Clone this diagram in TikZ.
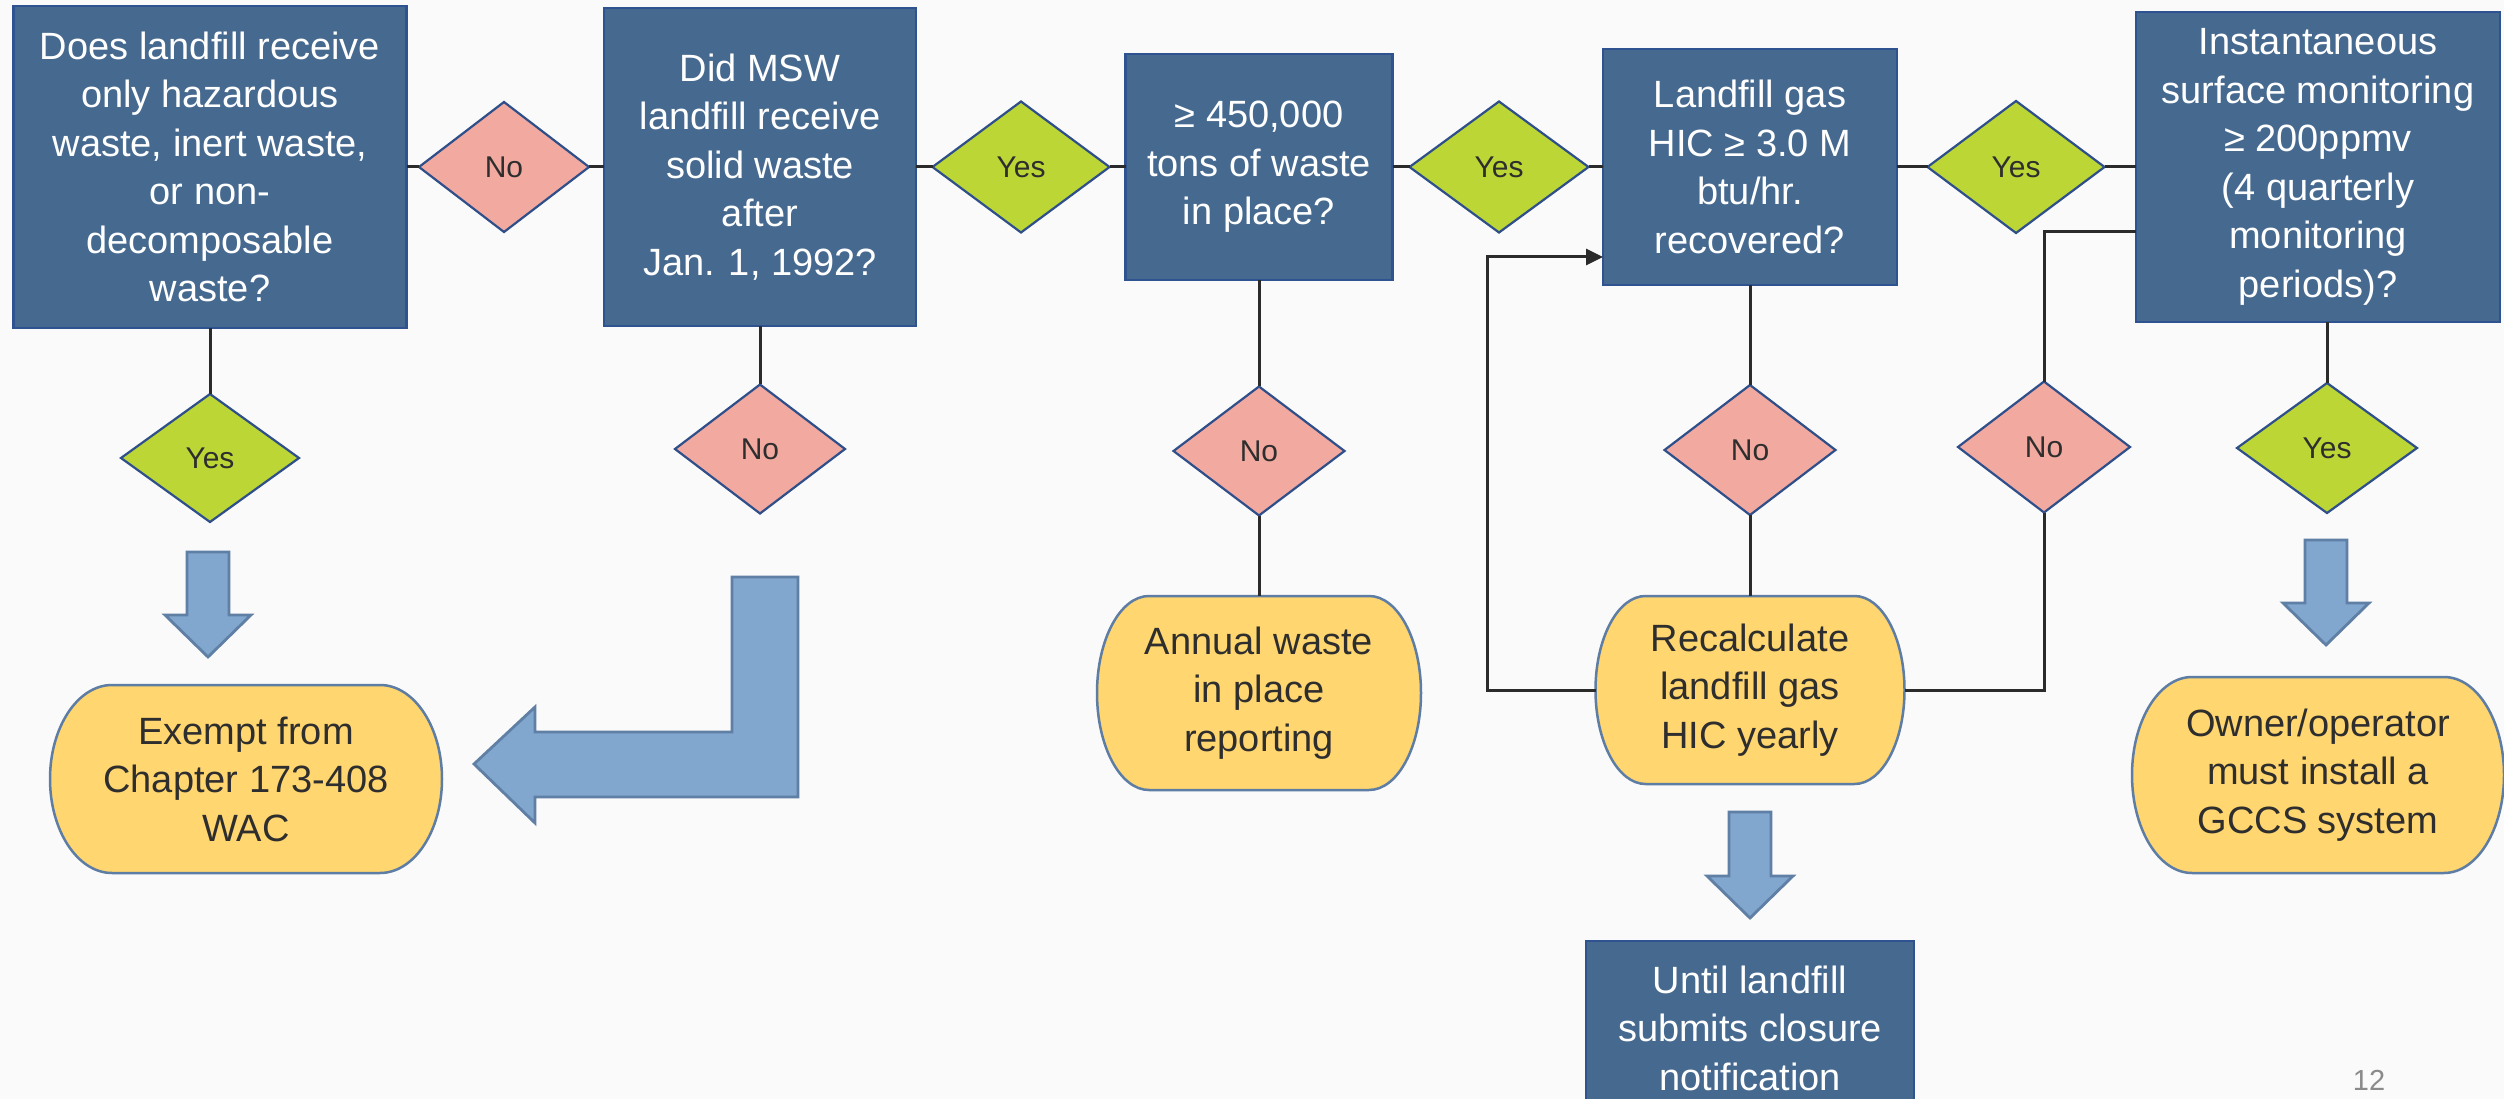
\documentclass[tikz,border=0pt]{standalone}
\usepackage{fontspec}
\setmainfont{Liberation Sans}
\usetikzlibrary{shapes.geometric,arrows.meta,calc}
\definecolor{bgc}{HTML}{FAFAFA}
\definecolor{boxfill}{HTML}{46698F}
\definecolor{boxline}{HTML}{2F5291}
\definecolor{redfill}{HTML}{F2A99F}
\definecolor{greenfill}{HTML}{BCD636}
\definecolor{dialine}{HTML}{2F4F8A}
\definecolor{yelfill}{HTML}{FFD66F}
\definecolor{yelline}{HTML}{5E7DA5}
\definecolor{arrfill}{HTML}{81A7CF}
\definecolor{arrline}{HTML}{5F7FA5}
\definecolor{lineblack}{HTML}{2B2B2B}
\definecolor{txtdark}{HTML}{2E2E2E}
\definecolor{pagegray}{HTML}{8A8A8A}
\pgfdeclarelayer{back}
\pgfdeclarelayer{mid}
\pgfsetlayers{back,mid,main}
\tikzset{
  qbox/.style={rectangle, fill=boxfill, draw=boxline, line width=2.5pt, text=white,
    align=center, inner sep=0pt, outer sep=0pt, font=\fontsize{38}{48.5}\selectfont},
  ydia/.style={diamond, fill=greenfill, draw=dialine, line width=2.2pt, inner sep=0pt,
    outer sep=0pt, text=txtdark, font=\fontsize{30}{36}\selectfont},
  ndia/.style={ydia, fill=redfill},
  term/.style={text=txtdark, align=center, inner sep=0pt, outer sep=0pt,
    font=\fontsize{38}{48.5}\selectfont},
  termline/.style={fill=yelfill, draw=yelline, line width=2.5pt},
  connline/.style={draw=lineblack, line width=3pt},
  blockarr/.style={fill=arrfill, draw=arrline, line width=2.8pt, line join=miter},
}
\newcommand\termshape[3]{%
  \begin{pgfonlayer}{mid}
  \path[termline] ([xshift=#2]#1.north west) -- ([xshift=-#2]#1.north east)
    arc[start angle=90,end angle=-90,x radius=#2,y radius=#3]
    -- ([xshift=#2]#1.south west)
    arc[start angle=270,end angle=90,x radius=#2,y radius=#3] -- cycle;
  \end{pgfonlayer}}
\newcommand\blockdown[4]{%
  \filldraw[blockarr] (#1-21,#2) -- (#1+21,#2) -- (#1+21,#3) -- (#1+43,#3)
    -- (#1,#4) -- (#1-43,#3) -- (#1-21,#3) -- cycle;}
\begin{document}
\begin{tikzpicture}[x=1pt,y=-1pt]
\useasboundingbox (0,0) rectangle (2504,1099);
\begin{pgfonlayer}{back}
\fill[bgc] (0,0) rectangle (2504,1099);
\end{pgfonlayer}

% top row
\node[qbox, minimum width=393pt, minimum height=322pt] (B1) at (210,167)
  {Does landfill receive\\only hazardous\\waste, inert waste,\\or non-\\decomposable\\waste?};
\node[ndia, minimum width=170pt, minimum height=130pt] (D1) at (504,167) {No};
\node[qbox, minimum width=312pt, minimum height=318pt] (B2) at (760,167)
  {Did MSW\\landfill receive\\solid waste\\after\\Jan. 1, 1992?};
\node[ydia, minimum width=177pt, minimum height=131pt] (D2) at (1021,167) {Yes};
\node[qbox, minimum width=267pt, minimum height=226pt] (B3) at (1259,167)
  {≥ 450,000\\tons of waste\\in place?};
\node[ydia, minimum width=179pt, minimum height=131pt] (D3) at (1499,167) {Yes};
\node[qbox, minimum width=294pt, minimum height=236pt] (B4) at (1750,167)
  {Landfill gas\\HIC ≥ 3.0 M\\btu/hr.\\recovered?};
\node[ydia, minimum width=177pt, minimum height=132pt] (D4) at (2016,167) {Yes};
\node[qbox, minimum width=364pt, minimum height=310pt] (B5) at (2318,167)
  {Instantaneous\\surface monitoring\\≥ 200ppmv\\(4 quarterly\\monitoring\\periods)?};

% second row diamonds
\node[ydia, minimum width=178pt, minimum height=128pt] (D1b) at (210,458) {Yes};
\node[ndia, minimum width=170pt, minimum height=129pt] (D2b) at (760,449) {No};
\node[ndia, minimum width=171pt, minimum height=129pt] (D5) at (1259,451) {No};
\node[ndia, minimum width=171pt, minimum height=130pt] (D7) at (1750,450) {No};
\node[ndia, minimum width=172pt, minimum height=131pt] (D8) at (2044,447) {No};
\node[ydia, minimum width=180pt, minimum height=130pt] (D9) at (2327,448) {Yes};

% terminators
\node[term, minimum width=392pt, minimum height=188pt] (Ex) at (246,779)
  {Exempt from\\Chapter 173-408\\WAC};
\termshape{Ex}{62pt}{94pt}
\node[term, minimum width=324pt, minimum height=194pt] (An) at (1259,693)
  {Annual waste\\in place\\reporting};
\termshape{An}{52pt}{97pt}
\node[term, minimum width=309pt, minimum height=188pt] (Re) at (1750,690)
  {Recalculate\\landfill gas\\HIC yearly};
\termshape{Re}{50pt}{94pt}
\node[term, minimum width=372pt, minimum height=196pt] (Ow) at (2318,775)
  {Owner/operator\\must install a\\GCCS system};
\termshape{Ow}{60pt}{98pt}

\node[qbox, minimum width=328pt, minimum height=174pt] (Un) at (1750,1028)
  {Until landfill\\submits closure\\notification};

\node[text=pagegray, font=\fontsize{29}{34}\selectfont, inner sep=0pt] (pg) at (2369,1080) {12};

% connectors
\draw[connline] (B1) -- (D1) -- (B2) -- (D2) -- (B3) -- (D3) -- (B4) -- (D4) -- (B5);
\draw[connline] (B1) -- (D1b);
\draw[connline] (B2) -- (D2b);
\draw[connline] (B3) -- (D5) -- (An);
\draw[connline] (B4) -- (D7) -- (Re);
\draw[connline] ([xshift=9pt]B5.south) -- (D9.north);
\draw[connline] (D8.north) |- ([yshift=-65pt]B5.west);
\draw[connline] (D8.south) |- (Re.east);
\draw[connline, -{Triangle[length=17pt,width=16pt]}] (Re.west) -- ++(-108,0) |- ([yshift=-90pt]B4.west);

% block arrows
\blockdown{208}{552}{615}{657}
\blockdown{1750}{812}{876}{918}
\blockdown{2326}{540}{603}{645}
\filldraw[blockarr] (798,577) -- (798,797) -- (535,797) -- (535,823) -- (474,764)
  -- (535,707) -- (535,732) -- (732,732) -- (732,577) -- cycle;
\end{tikzpicture}
\end{document}
